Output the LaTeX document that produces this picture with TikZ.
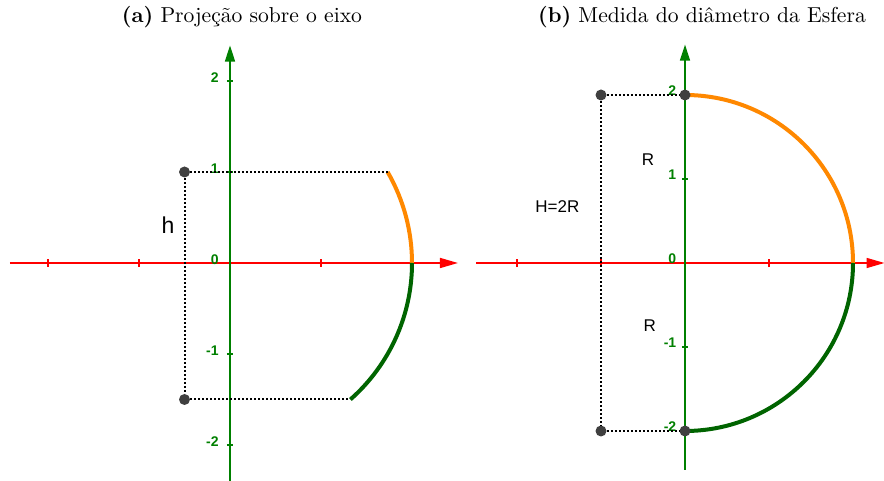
\documentclass[tikz,border=0pt]{standalone}
\usepackage{fontspec}
\newfontfamily\labelfont{Liberation Sans}
\usetikzlibrary{arrows.meta,positioning}
\definecolor{axisred}{RGB}{255,0,0}
\definecolor{axisgreen}{RGB}{0,128,0}
\definecolor{arcorange}{RGB}{255,136,0}
\definecolor{arcgreen}{RGB}{0,100,0}
\definecolor{dotgray}{RGB}{64,64,64}

\begin{document}
\begin{tikzpicture}[
  every node/.style={font=\small},
  xaxis/.style={draw=axisred,line width=.8pt,-{Triangle[length=9pt,width=5pt]}},
  yaxis/.style={draw=axisgreen,line width=.8pt,-{Triangle[length=8pt,width=5pt]}},
  ticklab/.style={font=\labelfont\bfseries\fontsize{7}{8}\selectfont,text=axisgreen,anchor=east,inner sep=0pt},
  proj/.style={dash pattern=on 1pt off 1pt,line width=1pt},
  dot/.style={circle,fill=dotgray,inner sep=0pt,minimum size=5.5pt},
  upper/.style={draw=arcorange,line width=2pt},
  lower/.style={draw=arcgreen,line width=2pt},
  txt/.style={font=\labelfont\fontsize{8.5}{10}\selectfont},
  title/.style={font=\fontsize{10.8}{13}\selectfont}
]
\useasboundingbox (0,0) rectangle (442pt,240.5pt);
\node[title] (tita) at (121pt,232pt) {\textbf{(a)} Projeção sobre o eixo};
\node[title] (titb) at (351pt,232pt) {\textbf{(b)} Medida do diâmetro da Esfera};

% (a) projecao
\begin{scope}[shift={(115pt,109pt)},x=45.5pt,y=45.5pt]
\coordinate (a-xl) at (-2.418,0);
\coordinate (a-xr) at (2.505,0);
\coordinate (a-yb) at (0,-2.4);
\coordinate (a-yt) at (0,2.39);
\draw[xaxis] (a-xl) -- (a-xr);
\draw[yaxis] (a-yb) -- (a-yt);
\foreach \x in {-2,-1,1} \draw[axisred,line width=.6pt] (\x,-0.044) -- (\x,0.044);
\foreach \y in {-2,-1,1,2} \draw[axisgreen,line width=.6pt] (-0.035,\y) -- (0.035,\y);
\foreach \y in {-2,...,2} \node[ticklab] (a-t\y) at (-0.12,\y+0.04) {\y};
\coordinate (a-top) at ({2*cos(30)},1);
\coordinate (a-mid) at (2,0);
\coordinate (a-bot) at ({2*cos(48.59)},-1.5);
\draw[upper] (a-top) arc[start angle=30,end angle=0,radius=2];
\draw[lower] (a-mid) arc[start angle=0,end angle=-48.59,radius=2];
\node[dot] (a-p1) at (-0.5,1) {};
\node[dot] (a-p2) at (-0.5,-1.5) {};
\draw[proj] (a-p1) -- (a-top);
\draw[proj] (a-p1) -- (a-p2);
\draw[proj] (a-p2) -- (a-bot);
\node[txt,font=\labelfont\fontsize{11.5}{13}\selectfont] (a-h) at (-0.68,0.42) {h};
\end{scope}

% (b) diametro
\begin{scope}[shift={(342.5pt,109pt)},x=42pt,y=42pt]
\coordinate (b-xl) at (-2.488,0);
\coordinate (b-xr) at (2.375,0);
\coordinate (b-yb) at (0,-2.464);
\coordinate (b-yt) at (0,2.6);
\draw[xaxis] (b-xl) -- (b-xr);
\draw[yaxis] (b-yb) -- (b-yt);
\foreach \x in {-2,-1,1} \draw[axisred,line width=.6pt] (\x,-0.048) -- (\x,0.048);
\foreach \y in {-2,-1,1,2} \draw[axisgreen,line width=.6pt] (-0.038,\y) -- (0.038,\y);
\foreach \y in {-2,...,2} \node[ticklab] (b-t\y) at (-0.1,\y+0.05) {\y};
\coordinate (b-mid) at (2,0);
\draw[upper] (0,2) arc[start angle=90,end angle=0,radius=2];
\draw[lower] (b-mid) arc[start angle=0,end angle=-90,radius=2];
\node[dot] (b-p1) at (-1,2) {};
\node[dot] (b-p2) at (0,2) {};
\node[dot] (b-p3) at (-1,-2) {};
\node[dot] (b-p4) at (0,-2) {};
\draw[proj] (b-p1) -- (b-p2);
\draw[proj] (b-p1) -- (b-p3);
\draw[proj] (b-p3) -- (b-p4);
\node[txt] (b-r1) at (-0.44,1.23) {R};
\node[txt] (b-r2) at (-0.42,-0.75) {R};
\node[txt] (b-h) at (-1.52,0.67) {H=2R};
\end{scope}
\end{tikzpicture}
\end{document}
